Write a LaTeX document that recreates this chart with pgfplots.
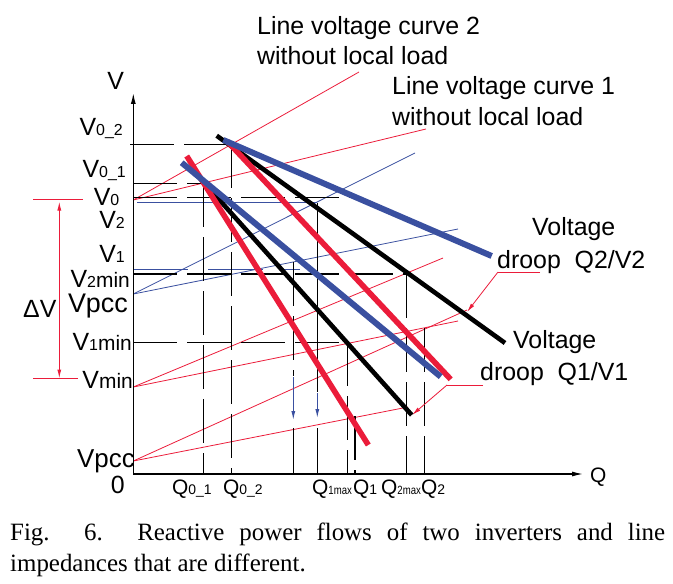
\documentclass[border=0pt]{standalone}
\usepackage{fontspec}
\setmainfont{Liberation Serif}
\newfontfamily\arial{Liberation Sans}
\usepackage{pgfplots}
\pgfplotsset{compat=1.18}
\usetikzlibrary{arrows.meta}
\definecolor{myred}{RGB}{235,28,58}
\definecolor{myblue}{RGB}{58,80,160}
\newcommand\lab{\arial\fontsize{25}{25}\selectfont}
\newcommand\qlab{\arial\fontsize{21}{21}\selectfont}
\newcommand\sub[1]{{\fontsize{16}{16}\selectfont #1}}
\newcommand\subm[1]{{\fontsize{21}{21}\selectfont #1}}
\newcommand\subq[1]{{\fontsize{14}{14}\selectfont #1}}
\newcommand\subx[1]{\scalebox{0.8}[1]{\fontsize{12}{12}\selectfont #1}}
\begin{document}
\begin{tikzpicture}
\begin{axis}[
  name=ax,
  scale only axis, width=673bp, height=584bp,
  xmin=0, xmax=673, ymin=0, ymax=584, y dir=reverse,
  hide axis, clip=false,
  thinred/.style={myred, line width=0.8bp},
  thinblue/.style={myblue, line width=0.8bp},
  dsh/.style={black, line width=1.1bp, dash pattern=on 44bp off 10bp},
  sol/.style={black, line width=1.1bp},
  arr/.style={-{Latex[length=9bp,width=4bp]}},
]
% thin red line-voltage curves
\addplot[thinred] coordinates {(133.3,200) (359,72)};
\addplot[thinred] coordinates {(133.3,200) (426,129)};
\addplot[thinred] coordinates {(133.3,387) (443,258)};
\addplot[thinred] coordinates {(133.3,387) (458,321)};
\addplot[thinred] coordinates {(133.3,461) (467,310)};
\addplot[thinred] coordinates {(133.3,461) (408,407)};
% thin blue
\addplot[thinblue] coordinates {(133.3,294) (415,153)};
\addplot[thinblue] coordinates {(133.3,294) (458,229)};
% horizontal guides
\addplot[dsh] coordinates {(130,144.3) (232,144.3)};
\addplot[dsh] coordinates {(133.3,183.3) (203.3,183.3)};
\addplot[dsh] coordinates {(133.3,197.3) (352,197.3)};
\addplot[thinblue, line width=1bp] coordinates {(137,202.7) (317.3,202.7)};
\addplot[thinblue, line width=1bp, dash pattern=on 55bp off 20bp] coordinates {(133.3,269.3) (300,269.3)};
\addplot[dsh] coordinates {(133.3,274) (406.7,274)};
\addplot[dsh] coordinates {(133.3,342.3) (347.7,342.3)};
% vertical guides
\addplot[dsh] coordinates {(203.3,183.3) (203.3,474)};
\addplot[dsh] coordinates {(231.7,144.3) (231.7,474)};
\addplot[dsh] coordinates {(293.3,262) (293.3,376)};
\addplot[sol] coordinates {(293.3,428) (293.3,474)};
\addplot[sol] coordinates {(317.3,202.7) (317.3,392)};
\addplot[sol] coordinates {(317.3,428) (317.3,474)};
\addplot[dsh] coordinates {(347.7,342.3) (347.7,474)};
\addplot[dsh] coordinates {(355,416) (355,474)};
\addplot[dsh] coordinates {(406.7,274) (406.7,474)};
\addplot[dsh] coordinates {(424.3,328) (424.3,474)};
% blue arrows
\addplot[myblue, line width=1bp, arr] coordinates {(293.3,377) (293.3,420)};
\addplot[myblue, line width=1bp, arr] coordinates {(317.3,393) (317.3,418)};
% delta V
\addplot[thinred, line width=1bp, {Latex[length=9bp,width=4bp]}-{Latex[length=9bp,width=4bp]}] coordinates {(59.3,201.5) (59.3,378.5)};
\addplot[thinred, line width=1bp] coordinates {(33,199.3) (83,199.3)};
\addplot[thinred, line width=1bp] coordinates {(33,378.3) (78,378.3)};
% label pointers
\addplot[thinred] coordinates {(540,272) (498,272)};
\addplot[thinred, arr] coordinates {(498,272) (467,312)};
\addplot[thinred] coordinates {(483,385) (447,385)};
\addplot[thinred, arr] coordinates {(447,385) (412,415)};
% axes
\addplot[black, line width=1.2bp, -{Latex[length=11bp,width=5bp]}] coordinates {(133.3,474) (133.3,93)};
\addplot[black, line width=1.2bp, -{Latex[length=11bp,width=5bp]}] coordinates {(133.3,474) (583,474)};
% thick droop lines
\addplot[black, line width=4.6bp] coordinates {(216.7,135.7) (505,343)};
\addplot[black, line width=4.6bp] coordinates {(198,176) (411.7,415)};
\addplot[myred, line width=5.6bp] coordinates {(227,141) (450.7,379.3)};
\addplot[myred, line width=5.6bp] coordinates {(186.7,156) (368.3,445)};
\addplot[myblue, line width=6bp] coordinates {(223.3,140) (491.7,256)};
\addplot[myblue, line width=6bp] coordinates {(181.7,162.7) (440.7,376.7)};
% labels
\node[anchor=base, inner sep=0] at (115.7,90) {\lab V};
\node[anchor=base east, inner sep=0] at (123,135) {\lab V\sub{0\_2}};
\node[anchor=base east, inner sep=0] at (126,177) {\lab V\sub{0\_1}};
\node[anchor=base east, inner sep=0] at (119.5,205) {\lab V\sub{0}};
\node[anchor=base east, inner sep=0] at (125,228) {\lab V\sub{2}};
\node[anchor=base east, inner sep=0] at (125,262) {\lab V\sub{1}};
\node[anchor=base east, inner sep=0] at (130,287) {\lab V\sub{2}\subm{min}};
\node[anchor=base east, inner sep=0] at (128,312) {\arial\fontsize{27}{27}\selectfont Vpcc};
\node[anchor=base west, inner sep=0] at (23,317) {\lab ΔV};
\node[anchor=base east, inner sep=0] at (132,350) {\lab V\sub{1}\subm{min}};
\node[anchor=base east, inner sep=0] at (133,388) {\lab V\subm{min}};
\node[anchor=base east, inner sep=0] at (135,467) {\arial\fontsize{26}{26}\selectfont Vpcc};
\node[anchor=base east, inner sep=0] at (125,493) {\lab 0};
\node[anchor=base west, inner sep=0] at (172,494) {\qlab Q\subq{0\_1}};
\node[anchor=base west, inner sep=0] at (223,494) {\qlab Q\subq{0\_2}};
\node[anchor=base west, inner sep=0] at (312,494) {\qlab Q\subx{1max}};
\node[anchor=base west, inner sep=0] at (353,494) {\qlab Q\subq{1}};
\node[anchor=base west, inner sep=0] at (381,494) {\qlab Q\subx{2max}};
\node[anchor=base west, inner sep=0] at (421,494) {\qlab Q\subq{2}};
\node[anchor=base west, inner sep=0] at (590,482) {\qlab Q};
\node[anchor=base west, inner sep=0] at (257,35) {\lab Line voltage curve 2};
\node[anchor=base west, inner sep=0] at (257,65) {\lab without local load};
\node[anchor=base west, inner sep=0] at (392,94) {\lab Line voltage curve 1};
\node[anchor=base west, inner sep=0] at (392,125) {\lab without local load};
\node[anchor=base west, inner sep=0] at (532,235) {\lab Voltage};
\node[anchor=base west, inner sep=0] at (497,268) {\lab droop\ \ Q2/V2};
\node[anchor=base west, inner sep=0] at (513,348) {\lab Voltage};
\node[anchor=base west, inner sep=0] at (480,380) {\lab droop\ \ Q1/V1};
\node[anchor=base west, inner sep=0] at (10,540) {\parbox[t]{655bp}{\fontsize{25}{32}\selectfont Fig. 6. Reactive power flows of two inverters and line\linebreak impedances that are different.}};
\end{axis}
\path (ax.south west) rectangle (ax.north east);
\end{tikzpicture}
\end{document}
